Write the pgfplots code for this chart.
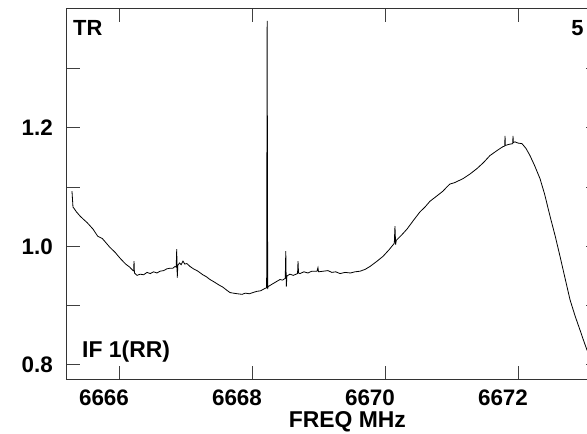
\documentclass[border=0pt]{standalone}
\usepackage{pgfplots}
\pgfplotsset{compat=1.18}
\usepackage{fontspec}
\setmainfont{Liberation Sans}

\begin{document}
\begin{tikzpicture}
\begin{axis}[
    scale only axis,
    width=532bp, height=370bp,
    xmin=6665.218, xmax=6673.218,
    ymin=0.7763, ymax=1.4,
    xtick={6666,6668,6670,6672},
    ytick={0.8,1.0,1.2},
    minor ytick={0.9,1.1,1.3},
    major tick length=13bp, minor tick length=13bp,
    tick align=inside,
    tick style={black!75, line width=0.9bp},
    axis line style={black!80, line width=1bp},
    /pgf/number format/assume math mode=true,
    ticklabel style={font=\bfseries\fontsize{22.5}{26}\selectfont, inner sep=0pt},
    xticklabel style={/pgf/number format/set thousands separator={},
        anchor=north, yshift=-11bp, xshift=-15bp},
    yticklabel style={/pgf/number format/fixed, /pgf/number format/fixed zerofill,
        /pgf/number format/precision=1, anchor=east, xshift=-14bp},
    clip=false,
]
\addplot[black, line width=0.8bp] coordinates {
(6665.293,1.093) (6665.308,1.066) (6665.323,1.064) (6665.36,1.058) (6665.414,1.051)
(6665.47,1.045) (6665.52,1.040) (6665.609,1.029) (6665.68,1.017) (6665.75,1.013)
(6665.865,0.998) (6665.94,0.990) (6666.015,0.980) (6666.10,0.970) (6666.16,0.965)
(6666.211,0.959) (6666.22,0.959) (6666.226,0.975) (6666.232,0.955) (6666.271,0.951)
(6666.32,0.953) (6666.37,0.952) (6666.421,0.956) (6666.47,0.954) (6666.52,0.957)
(6666.57,0.955) (6666.617,0.958) (6666.67,0.959) (6666.72,0.962) (6666.767,0.963)
(6666.81,0.963) (6666.842,0.966) (6666.86,0.965) (6666.868,0.995) (6666.876,0.947)
(6666.885,0.968) (6666.91,0.972) (6666.935,0.969) (6666.962,0.975) (6666.99,0.970)
(6667.02,0.971) (6667.068,0.966) (6667.12,0.962) (6667.188,0.958) (6667.26,0.952)
(6667.31,0.949) (6667.368,0.944) (6667.43,0.940) (6667.50,0.935) (6667.564,0.931)
(6667.62,0.926) (6667.669,0.922) (6667.72,0.921) (6667.78,0.920) (6667.850,0.919)
(6667.90,0.921) (6667.96,0.920) (6668.015,0.922) (6668.07,0.924) (6668.13,0.925)
(6668.195,0.929) (6668.22,0.930) (6668.228,1.380) (6668.236,0.928) (6668.241,0.932)
(6668.30,0.936) (6668.36,0.940) (6668.421,0.944) (6668.46,0.943) (6668.50,0.946)
(6668.508,0.992) (6668.516,0.932) (6668.525,0.950) (6668.571,0.953) (6668.62,0.951)
(6668.685,0.954) (6668.692,0.975) (6668.70,0.955) (6668.722,0.954) (6668.78,0.957)
(6668.84,0.955) (6668.90,0.958) (6668.977,0.958) (6668.992,0.964) (6669.00,0.957)
(6669.07,0.958) (6669.143,0.959) (6669.20,0.956) (6669.26,0.957) (6669.323,0.954)
(6669.40,0.956) (6669.48,0.955) (6669.55,0.957) (6669.624,0.958) (6669.70,0.961)
(6669.774,0.966) (6669.87,0.974) (6669.970,0.983) (6670.06,0.994) (6670.14,1.005)
(6670.15,1.034) (6670.16,1.003) (6670.17,1.010) (6670.25,1.019) (6670.331,1.029)
(6670.43,1.044) (6670.526,1.058) (6670.60,1.066) (6670.677,1.076) (6670.77,1.084)
(6670.872,1.093) (6670.93,1.100) (6670.977,1.105) (6671.04,1.107) (6671.098,1.110)
(6671.173,1.114) (6671.28,1.122) (6671.383,1.131) (6671.48,1.141) (6671.579,1.153)
(6671.68,1.161) (6671.774,1.168) (6671.80,1.169) (6671.805,1.186) (6671.81,1.170)
(6671.87,1.172) (6671.92,1.173) (6671.925,1.186) (6671.93,1.175) (6671.955,1.176)
(6672.00,1.174) (6672.060,1.173) (6672.12,1.165) (6672.180,1.153) (6672.25,1.136)
(6672.331,1.114) (6672.40,1.088) (6672.481,1.051) (6672.56,1.017) (6672.632,0.983)
(6672.71,0.945) (6672.782,0.910) (6672.86,0.882) (6672.932,0.859) (6672.99,0.840)
(6673.038,0.825) (6673.10,0.812)
};
\coordinate (bbsw) at (rel axis cs:0,0);
\node[font=\bfseries\fontsize{22}{26}\selectfont] at (rel axis cs:0.039,0.949) {TR};
\node[font=\bfseries\fontsize{22}{26}\selectfont] at (rel axis cs:0.9596,0.949) {5};
\node[font=\bfseries\fontsize{23}{26}\selectfont, anchor=west, inner sep=0pt] at (rel axis cs:0.0282,0.0743) {IF 1(RR)};
\node[font=\bfseries\fontsize{23}{26}\selectfont] at ([yshift=-42.5bp]rel axis cs:0.527,0) {FREQ MHz};
\end{axis}
\pgfresetboundingbox
\useasboundingbox ([xshift=-67bp,yshift=-55bp]bbsw) rectangle ([xshift=520bp,yshift=379bp]bbsw);
\end{tikzpicture}
\end{document}
